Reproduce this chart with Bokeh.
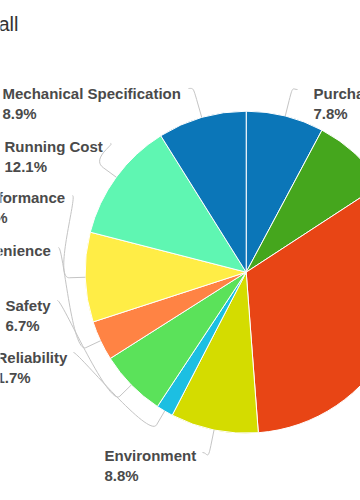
import math
from bokeh.plotting import figure
from bokeh.models import Range1d, ColumnDataSource
from bokeh.embed import file_html
from bokeh.resources import INLINE
from bokeh.core.properties import value

# ---- data (clockwise from 12 o'clock) ----
categories = ["Purchase Price", "Design", "Comfort", "Environment", "Reliability",
              "Safety", "Convenience", "Performance", "Running Cost",
              "Mechanical Specification"]
shares = [7.8, 8.0, 33.0, 8.8, 1.7, 6.7, 4.0, 9.0, 12.1, 8.9]
colors = ["#0b76b8", "#45a61d", "#e84515", "#d4dc00", "#1cbfe2",
          "#5be25a", "#ff8344", "#ffed46", "#5ff6b2", "#0b76b8"]
title_text = "Overall"

# ---- layout (screen pixel coordinates of the 360x500 page) ----
W, H = 360, 500
CX, CY, R = 245.7, 271.7, 161.0
BREAK = 16.0


def Y(v):
    return 500 - v


# category -> (text left x, first line y, connector start x, connector start y, side)
label_layout = {
    "Purchase Price": (313, 93, 297, 89, "right"),
    "Mechanical Specification": (2, 93, 188, 88, "left"),
    "Running Cost": (4, 146, 110, 143, "left"),
    "Performance": (-27, 197, 72, 195, "left"),
    "Convenience": (-43, 250, 58, 247, "left"),
    "Safety": (5, 305, 57, 300, "left"),
    "Reliability": (-4, 357, 73, 352, "left"),
    "Environment": (104, 455, 202, 452, "left"),
}

p = figure(width=W, height=H, x_range=Range1d(0, W), y_range=Range1d(0, H),
           output_backend="svg", toolbar_location=None, min_border=0,
           x_axis_type=None, y_axis_type=None)
p.grid.visible = False
p.outline_line_color = None
p.background_fill_color = "white"
p.border_fill_color = "white"

total = float(sum(shares))
starts, ends, mids = [], [], []
cum = 0.0
for s in shares:
    t1 = 2 * math.pi * cum / total
    t2 = 2 * math.pi * (cum + s) / total
    starts.append(math.pi / 2 - t2)
    ends.append(math.pi / 2 - t1)
    mids.append((t1 + t2) / 2)
    cum += s

src = ColumnDataSource(dict(cat=categories, share=shares, color=colors,
                            start=starts, end=ends))
p.wedge(x=CX, y=Y(CY), radius=R, start_angle="start", end_angle="end",
        direction="anticlock", fill_color="color", line_color="white",
        line_width=1, source=src)

# connectors and labels
bx0, by0, bx1, by1, bcx0, bcy0, bcx1, bcy1 = [], [], [], [], [], [], [], []
sx0, sy0, sx1, sy1 = [], [], [], []
tx, ty, tt = [], [], []
for cat, s, m in zip(categories, shares, mids):
    if cat not in label_layout:
        continue
    lx, ly, ax, ay, side = label_layout[cat]
    touch = (CX + R * math.sin(m), CY - R * math.cos(m))
    brk = (CX + (R + BREAK) * math.sin(m), CY - (R + BREAK) * math.cos(m))
    c1 = (ax + (5 if side == "left" else -5), ay)
    c2 = (2 * brk[0] - touch[0], 2 * brk[1] - touch[1])
    bx0.append(ax); by0.append(Y(ay))
    bx1.append(brk[0]); by1.append(Y(brk[1]))
    bcx0.append(c1[0]); bcy0.append(Y(c1[1]))
    bcx1.append(c2[0]); bcy1.append(Y(c2[1]))
    sx0.append(brk[0]); sy0.append(Y(brk[1]))
    sx1.append(touch[0]); sy1.append(Y(touch[1]))
    tx += [lx, lx]
    ty += [Y(ly), Y(ly + 20)]
    tt += [cat, "%.1f%%" % s]

p.bezier(x0=bx0, y0=by0, x1=bx1, y1=by1, cx0=bcx0, cy0=bcy0, cx1=bcx1, cy1=bcy1,
         line_color="#c4c4c4", line_width=1)
p.segment(x0=sx0, y0=sy0, x1=sx1, y1=sy1, line_color="#c4c4c4", line_width=1)

p.text(x=tx, y=ty, text=tt, text_font=value("Liberation Sans"),
       text_font_style="bold", text_font_size="15px", text_color="#4a4a4a",
       text_baseline="middle", text_align="left")

p.text(x=[18], y=[Y(23)], text=[title_text], text_font=value("Liberation Sans"),
       text_font_size="20px", text_color="#333333", text_baseline="middle",
       text_align="right")

open("out.html", "w").write(file_html(p, INLINE))
